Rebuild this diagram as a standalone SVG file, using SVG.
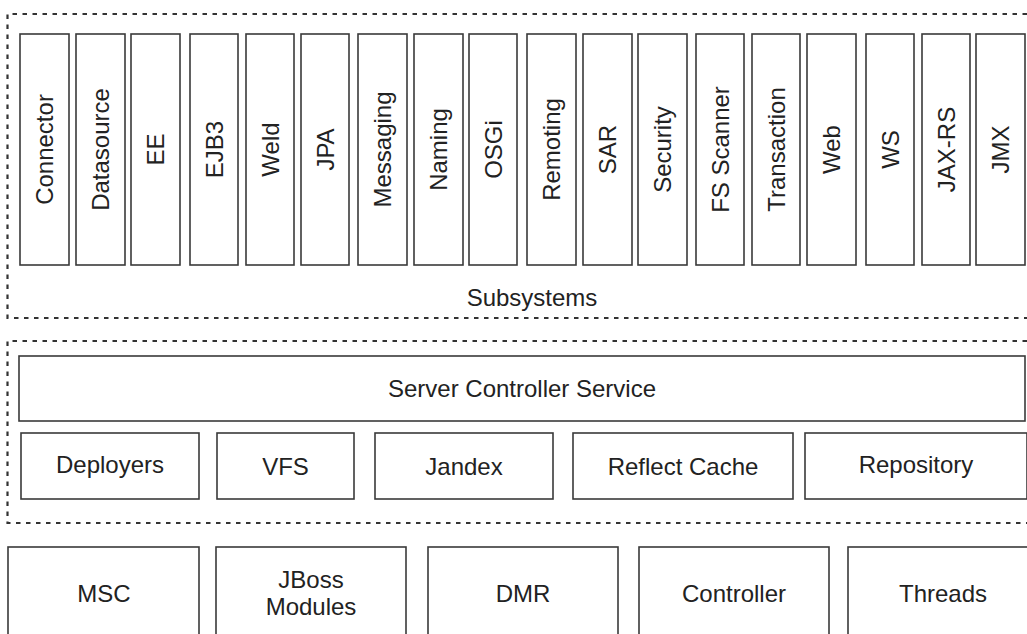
<svg xmlns="http://www.w3.org/2000/svg" width="1027" height="634" viewBox="0 0 1027 634">
<style>
.box{fill:#fff;stroke:#3a3a3a;stroke-width:1.6}
.dash{fill:none;stroke:#333;stroke-width:2.2;stroke-dasharray:4.5 5.5}
text{font-family:"Liberation Sans",Arial,sans-serif;font-size:24px;fill:#222;text-anchor:middle}
</style>
<rect width="1027" height="634" fill="#fff"/>
<g id="groups">
<path class="dash" d="M1027 14 H7.5 V318 H1027"/>
<path class="dash" d="M1027 341 H7.5 V523 H1027"/>
</g>
<g id="subsystems">
<text x="532" y="306">Subsystems</text>
<g id="connector"><rect class="box" x="20" y="34" width="49" height="231"/><text transform="translate(44.5,149.5) rotate(-90)" y="8.5">Connector</text></g>
<g id="datasource"><rect class="box" x="76" y="34" width="49" height="231"/><text transform="translate(100.5,149.5) rotate(-90)" y="8.5">Datasource</text></g>
<g id="ee"><rect class="box" x="131" y="34" width="49" height="231"/><text transform="translate(155.5,149.5) rotate(-90)" y="8.5">EE</text></g>
<g id="ejb3"><rect class="box" x="190" y="34" width="48" height="231"/><text transform="translate(214,149.5) rotate(-90)" y="8.5">EJB3</text></g>
<g id="weld"><rect class="box" x="246" y="34" width="48" height="231"/><text transform="translate(270,149.5) rotate(-90)" y="8.5">Weld</text></g>
<g id="jpa"><rect class="box" x="301" y="34" width="48" height="231"/><text transform="translate(325,149.5) rotate(-90)" y="8.5">JPA</text></g>
<g id="messaging"><rect class="box" x="358" y="34" width="49" height="231"/><text transform="translate(382.5,149.5) rotate(-90)" y="8.5">Messaging</text></g>
<g id="naming"><rect class="box" x="414" y="34" width="49" height="231"/><text transform="translate(438.5,149.5) rotate(-90)" y="8.5">Naming</text></g>
<g id="osgi"><rect class="box" x="469" y="34" width="48" height="231"/><text transform="translate(493,149.5) rotate(-90)" y="8.5">OSGi</text></g>
<g id="remoting"><rect class="box" x="527" y="34" width="49" height="231"/><text transform="translate(551.5,149.5) rotate(-90)" y="8.5">Remoting</text></g>
<g id="sar"><rect class="box" x="583" y="34" width="49" height="231"/><text transform="translate(607.5,149.5) rotate(-90)" y="8.5">SAR</text></g>
<g id="security"><rect class="box" x="638" y="34" width="49" height="231"/><text transform="translate(662.5,149.5) rotate(-90)" y="8.5">Security</text></g>
<g id="fsscanner"><rect class="box" x="696" y="34" width="48" height="231"/><text transform="translate(720,149.5) rotate(-90)" y="8.5">FS Scanner</text></g>
<g id="transaction"><rect class="box" x="752" y="34" width="48" height="231"/><text transform="translate(776,149.5) rotate(-90)" y="8.5">Transaction</text></g>
<g id="web"><rect class="box" x="807" y="34" width="49" height="231"/><text transform="translate(831.5,149.5) rotate(-90)" y="8.5">Web</text></g>
<g id="ws"><rect class="box" x="866" y="34" width="48" height="231"/><text transform="translate(890,149.5) rotate(-90)" y="8.5">WS</text></g>
<g id="jaxrs"><rect class="box" x="922" y="34" width="48" height="231"/><text transform="translate(946,149.5) rotate(-90)" y="8.5">JAX-RS</text></g>
<g id="jmx"><rect class="box" x="976" y="34" width="49" height="231"/><text transform="translate(1000.5,149.5) rotate(-90)" y="8.5">JMX</text></g>
</g>
<g id="server">
<g id="scs"><rect class="box" x="19" y="356" width="1006" height="65"/><text x="522" y="397">Server Controller Service</text></g>
<g id="deployers"><rect class="box" x="21" y="433" width="178" height="66"/><text x="110" y="473">Deployers</text></g>
<g id="vfs"><rect class="box" x="217" y="433" width="137" height="66"/><text x="285.5" y="475">VFS</text></g>
<g id="jandex"><rect class="box" x="375" y="433" width="178" height="66"/><text x="464" y="475">Jandex</text></g>
<g id="reflect"><rect class="box" x="573" y="433" width="220" height="66"/><text x="683" y="475">Reflect Cache</text></g>
<g id="repository"><rect class="box" x="805" y="433" width="222" height="66"/><text x="916" y="473">Repository</text></g>
</g>
<g id="core">
<g id="msc"><rect class="box" x="8" y="547" width="191" height="100"/><text x="104" y="602">MSC</text></g>
<g id="modules"><rect class="box" x="216" y="547" width="190" height="100"/><text x="311" y="588">JBoss</text><text x="311" y="615">Modules</text></g>
<g id="dmr"><rect class="box" x="428" y="547" width="190" height="100"/><text x="523" y="602">DMR</text></g>
<g id="controller"><rect class="box" x="639" y="547" width="190" height="100"/><text x="734" y="602">Controller</text></g>
<g id="threads"><rect class="box" x="848" y="547" width="190" height="100"/><text x="943" y="602">Threads</text></g>
</g>
<g id="connectors"/>
</svg>
